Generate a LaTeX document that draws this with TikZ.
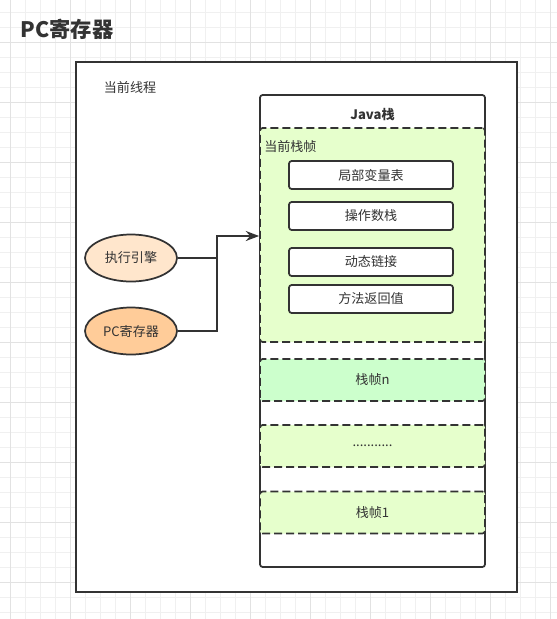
\documentclass[tikz,border=0pt]{standalone}
\usepackage{fontspec}
\newfontfamily\cjk{Noto Sans CJK SC}
\usetikzlibrary{arrows.meta,shapes.geometric}
\definecolor{strk}{HTML}{333333}
\definecolor{gridmin}{HTML}{F0F0F0}
\definecolor{gridmaj}{HTML}{E2E2E2}
\definecolor{greenA}{HTML}{E6FFCC}
\definecolor{greenB}{HTML}{CCFFCC}
\definecolor{orangeA}{HTML}{FFE6CC}
\definecolor{orangeB}{HTML}{FFCC99}
\tikzset{
  lbl/.style={font=\cjk\fontsize{9.8pt}{11pt}\selectfont, text=strk, inner sep=0pt},
  box/.style={draw=strk, line width=1.3pt, rounded corners=2pt, fill=white, inner sep=0pt},
  dashbox/.style={draw=strk, line width=1.3pt, rounded corners=2pt, dash pattern=on 6pt off 3pt, inner sep=0pt},
  item/.style={box, minimum width=123pt, minimum height=21pt, lbl},
  frame/.style={dashbox, minimum width=168.75pt, minimum height=31.5pt, lbl},
  oval/.style={ellipse, draw=strk, line width=1.3pt, minimum width=69pt, minimum height=35.25pt, lbl},
  conn/.style={draw=strk, line width=1.4pt},
}
\begin{document}
\begin{tikzpicture}[x=0.75pt,y=-0.75pt]
\useasboundingbox (0,0) rectangle (557,619);
\fill[white] (0,0) rectangle (557,619);
\foreach \x in {0,...,36} {\draw[gridmin, line width=0.6pt] ({10.7+15*\x},0) -- ({10.7+15*\x},619);}
\foreach \y in {0,...,41} {\draw[gridmin, line width=0.6pt] (0,{12.3+15*\y}) -- (557,{12.3+15*\y});}
\foreach \x in {0,...,9} {\draw[gridmaj, line width=0.6pt] ({10.7+60*\x},0) -- ({10.7+60*\x},619);}
\foreach \y in {0,...,10} {\draw[gridmaj, line width=0.6pt] (0,{42.3+60*\y}) -- (557,{42.3+60*\y});}

\node[font=\cjk\bfseries\fontsize{16pt}{18pt}\selectfont, text=strk, inner sep=0pt] (title) at (67,29) {PC寄存器};

\node[draw=strk, line width=1.6pt, fill=white, minimum width=330.75pt, minimum height=397.5pt, inner sep=0pt] (thread) at (296.5,327) {};
\node[lbl] (threadlbl) at (130,88) {当前线程};

\node[box, minimum width=168.75pt, minimum height=354pt] (stack) at (372.5,331) {};
\node[lbl, font=\cjk\bfseries\fontsize{9.8pt}{11pt}\selectfont] (stacklbl) at (372.5,115) {Java栈};

\node[dashbox, fill=greenA, minimum width=168.75pt, minimum height=160.5pt] (cur) at (372.5,235) {};
\node[lbl, anchor=west] (curlbl) at (264,147) {当前栈帧};

\node[item] (lv) at (371,175) {局部变量表};
\node[item] (os) at (371,216) {操作数栈};
\node[item] (dl) at (371,262) {动态链接};
\node[item] (ra) at (371,299) {方法返回值};

\node[frame, fill=greenB] (fn) at (372.5,380) {栈帧n};
\node[frame, fill=greenA] (fd) at (372.5,446) {...........};
\node[frame, fill=greenA] (f1) at (372.5,512.5) {栈帧1};

\node[oval, fill=orangeA] (exec) at (131,258) {执行引擎};
\node[oval, fill=orangeB] (pc) at (131,331) {PC寄存器};

\coordinate (j) at (217,236);
\draw[conn] (exec.east) -- (exec.east -| j);
\draw[conn, -{Stealth[length=10pt,width=7.5pt]}] (pc.east) -| (j) -- (cur.west |- j);
\end{tikzpicture}
\end{document}
